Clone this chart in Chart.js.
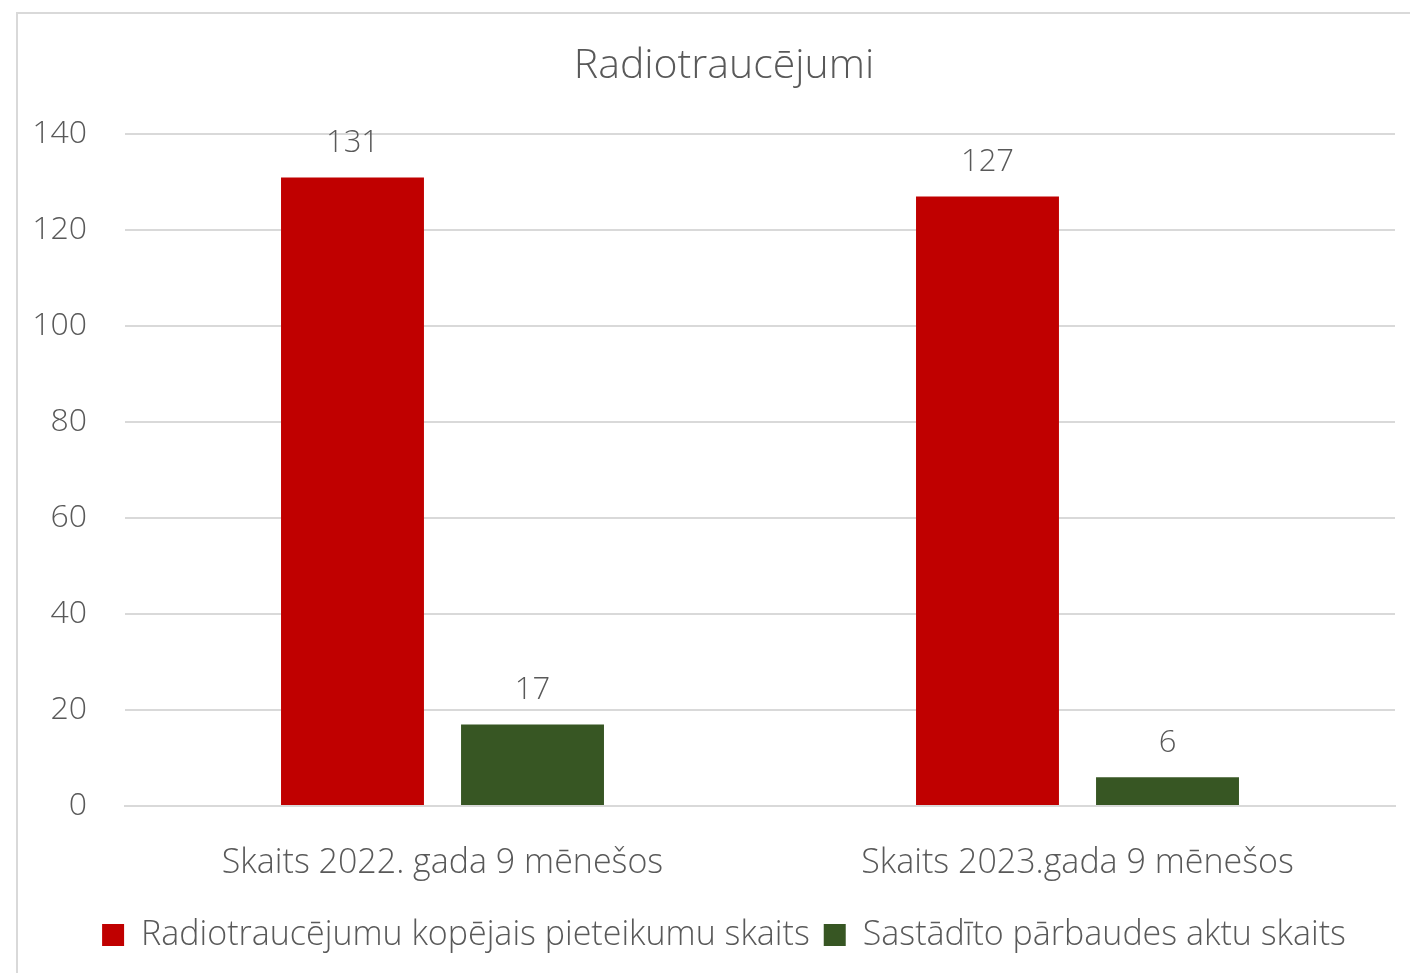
<!DOCTYPE html>
<html>
<head>
<meta charset="utf-8">
<script src="https://cdn.jsdelivr.net/npm/chart.js@4"></script>
<style>
  html, body { margin: 0; padding: 0; background: #fff; overflow: hidden; width: 1410px; height: 973px; }
  #frame { position: absolute; left: 16px; top: 12px; width: 1430px; height: 980px; border-left: 2px solid #d9d9d9; border-top: 2px solid #d9d9d9; box-sizing: border-box; }
  #wrap { position: absolute; left: -1px; top: -1px; width: 1414px; height: 970px; }
</style>
</head>
<body>
<div id="frame"><div id="wrap"><canvas id="c" width="1414" height="970"></canvas></div></div>
<script>
const categories = ["Skaits 2022. gada 9 mēnešos", "Skaits 2023.gada 9 mēnešos"];
const seriesNames = ["Radiotraucējumu kopējais pieteikumu skaits", "Sastādīto pārbaudes aktu skaits"];
const totalReports = [131, 127];
const inspectionActs = [17, 6];
const yTicks = [0, 20, 40, 60, 80, 100, 120, 140];
const chartTitle = "Radiotraucējumi";

const FONT = "'Open Sans', 'Noto Sans', sans-serif";
const TXT = '#595959';

const valueLabels = {
  id: 'valueLabels',
  afterDatasetsDraw(chart) {
    const ctx = chart.ctx;
    ctx.save();
    ctx.font = '300 31px ' + FONT;
    ctx.fillStyle = TXT;
    ctx.textAlign = 'center';
    ctx.textBaseline = 'middle';
    chart.data.datasets.forEach((ds, i) => {
      const meta = chart.getDatasetMeta(i);
      meta.data.forEach((el, j) => {
        ctx.fillText(String(ds.data[j]), el.x, el.y - 34);
      });
    });
    ctx.restore();
  }
};

new Chart(document.getElementById('c'), {
  type: 'bar',
  data: {
    labels: categories,
    datasets: [
      { label: seriesNames[0], data: totalReports, backgroundColor: '#C00000', barPercentage: 0.794, categoryPercentage: 0.567 },
      { label: seriesNames[1], data: inspectionActs, backgroundColor: '#375623', barPercentage: 0.794, categoryPercentage: 0.567 }
    ]
  },
  options: {
    responsive: false,
    animation: false,
    devicePixelRatio: 1,
    layout: { padding: { top: 0, right: 0, bottom: 21, left: 0 } },
    plugins: {
      title: {
        display: true, text: chartTitle, color: TXT,
        font: { family: FONT, size: 41, weight: 300 },
        padding: { top: 29, bottom: 43 }
      },
      legend: {
        position: 'bottom',
        labels: {
          color: TXT, boxWidth: 22, boxHeight: 22, padding: 14,
          font: { family: FONT, size: 34, weight: 300 }
        }
      },
      tooltip: { enabled: false }
    },
    scales: {
      x: {
        grid: { display: false, drawTicks: false },
        border: { color: '#d9d9d9', width: 2 },
        ticks: { color: TXT, padding: 37, font: { family: FONT, size: 34, weight: 300 } },
        afterFit(s) { s.height = 98; }
      },
      y: {
        min: 0, max: 140,
        afterBuildTicks(s) { s.ticks = yTicks.map(v => ({ value: v })); },
        grid: { color: '#d9d9d9', lineWidth: 2, drawTicks: false },
        border: { display: false },
        ticks: { color: TXT, padding: 38, font: { family: FONT, size: 32, weight: 300 } },
        afterFit(s) { s.width = 108; }
      },
      yRight: {
        position: 'right', display: true,
        grid: { display: false, drawTicks: false },
        border: { display: false },
        ticks: { display: false },
        afterFit(s) { s.width = 36; }
      }
    }
  },
  plugins: [valueLabels]
});
</script>
</body>
</html>
